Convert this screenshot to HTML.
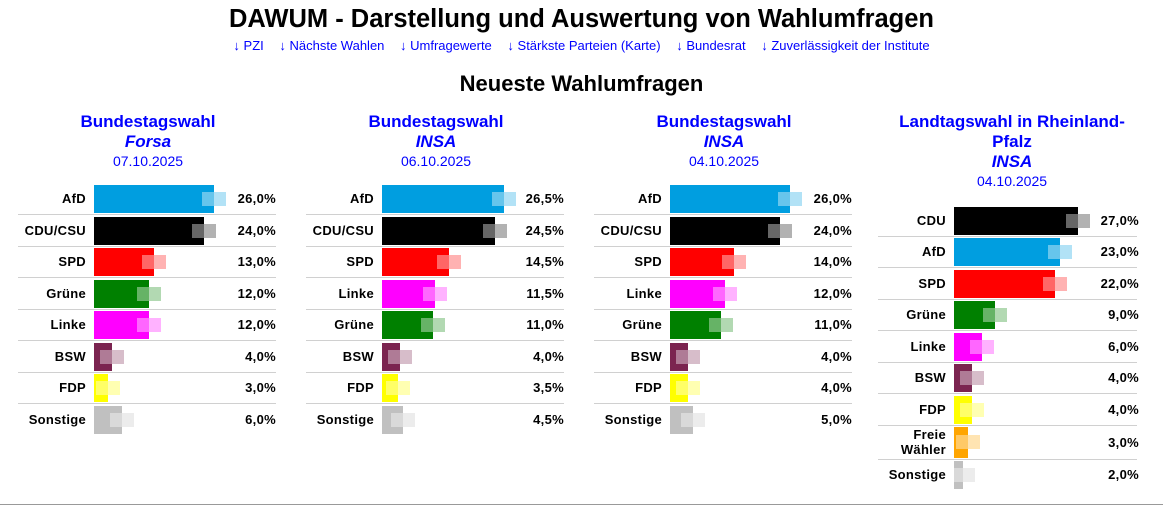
<!DOCTYPE html>
<html><head><meta charset="utf-8"><style>
body{margin:0;width:1163px;height:506px;background:#fff;font-family:"Liberation Sans",Arial,sans-serif;position:relative;overflow:hidden}
.a{position:absolute}
h1{position:absolute;left:0;width:1163px;top:5px;margin:0;text-align:center;font-size:25.5px;font-weight:bold;color:#000}
.links{position:absolute;left:0;width:1163px;top:38px;text-align:center;font-size:13px;color:#00f;white-space:nowrap}
.links span{margin:0 6px}
h2{position:absolute;left:0;width:1163px;top:71px;margin:0;text-align:center;font-size:22px;font-weight:bold}
.hd{position:absolute;width:288px;text-align:center;color:#00f}
.t1{font-size:17px;font-weight:bold;line-height:20px}
.t2{font-size:17px;font-weight:bold;font-style:italic;line-height:20px}
.t3{font-size:14px;line-height:19px}
.lab{position:absolute;text-align:right;font-size:13px;font-weight:bold;line-height:15px;letter-spacing:.3px}
.val{position:absolute;text-align:right;font-size:13px;font-weight:bold;letter-spacing:.3px}
.sep{position:absolute;height:1px;background:#d0d0d0}
</style></head><body>
<h1>DAWUM - Darstellung und Auswertung von Wahlumfragen</h1>
<div class="links"><span>↓ PZI</span> <span>↓ Nächste Wahlen</span> <span>↓ Umfragewerte</span> <span>↓ Stärkste Parteien (Karte)</span> <span>↓ Bundesrat</span> <span>↓ Zuverlässigkeit der Institute</span></div>
<h2>Neueste Wahlumfragen</h2>
<div id="root"></div>
<div class="a" style="left:0;top:504px;width:1163px;height:1px;background:#999"></div>
<script>
var C={AfD:[0,158,224],"CDU/CSU":[0,0,0],CDU:[0,0,0],SPD:[255,0,0],"Grüne":[0,128,0],Linke:[255,0,255],BSW:[123,36,80],FDP:[255,255,0],Sonstige:[192,192,192],"Freie Wähler":[255,165,0]};
var P=[
{x:4,h:["Bundestagswahl","Forsa","07.10.2025"],top:183.5,d:[["AfD",26],["CDU/CSU",24],["SPD",13],["Grüne",12],["Linke",12],["BSW",4],["FDP",3],["Sonstige",6]]},
{x:292,h:["Bundestagswahl","INSA","06.10.2025"],top:183.5,d:[["AfD",26.5],["CDU/CSU",24.5],["SPD",14.5],["Linke",11.5],["Grüne",11],["BSW",4],["FDP",3.5],["Sonstige",4.5]]},
{x:580,h:["Bundestagswahl","INSA","04.10.2025"],top:183.5,d:[["AfD",26],["CDU/CSU",24],["SPD",14],["Linke",12],["Grüne",11],["BSW",4],["FDP",4],["Sonstige",5]]},
{x:864,h:["Landtagswahl in Rheinland-Pfalz","INSA","04.10.2025"],top:205,d:[["CDU",27],["AfD",23],["SPD",22],["Grüne",9],["Linke",6],["BSW",4],["FDP",4],["Freie Wähler",3],["Sonstige",2]]}];
var s="";
P.forEach(function(p,pi){
 var hx=p.x, y0=p.top;
 if(pi<3){s+='<div class="hd" style="left:'+hx+'px;top:112px"><div class="t1">'+p.h[0]+'</div><div class="t2">'+p.h[1]+'</div><div class="t3">'+p.h[2]+'</div></div>';}
 else{s+='<div class="hd" style="left:'+(hx+4)+'px;top:112px;width:288px"><div class="t1" style="padding:0 28px">Landtagswahl in Rheinland-<br>Pfalz</div><div class="t2">'+p.h[1]+'</div><div class="t3">'+p.h[2]+'</div></div>';}
 var bx=hx+90, y=y0;
 p.d.forEach(function(r,i){
  var hh=(r[0]=="Freie Wähler")?34:31.5;
  var c=C[r[0]],col='rgb('+c+')',w=Math.round(r[1]*4.6);
  var by=y+1.5,bh=hh-3.5;
  s+='<div class="lab" style="left:'+(hx)+'px;width:'+(bx-hx-8)+'px;top:'+(y+(hh-(hh>32?30:15))/2-0.5)+'px">'+(r[0]=="Freie Wähler"?'Freie<br>Wähler':r[0])+'</div>';
  s+='<div class="a" style="left:'+bx+'px;top:'+by+'px;width:'+w+'px;height:'+bh+'px;background:'+col+'"></div>';
  var gw=Math.min(12,w), gy=by+bh/2-7;
  s+='<div class="a" style="left:'+(bx+w-gw)+'px;top:'+gy+'px;width:'+gw+'px;height:14px;background:rgba(255,255,255,.4)"></div>';
  s+='<div class="a" style="left:'+(bx+w)+'px;top:'+gy+'px;width:12px;height:14px;background:rgba('+c+',.3)"></div>';
  s+='<div class="val" style="left:'+(bx+100)+'px;width:'+(pi==3?85:82)+'px;top:'+(y+hh/2-8)+'px">'+r[1].toFixed(1).replace('.',',')+'%</div>';
  if(i<p.d.length-1) s+='<div class="sep" style="left:'+(hx+14)+'px;width:'+(pi==3?259:258)+'px;top:'+Math.round(y+hh-1)+'px"></div>';
  y+=hh;
 });
});
document.getElementById('root').innerHTML=s;
</script>
</body></html>
